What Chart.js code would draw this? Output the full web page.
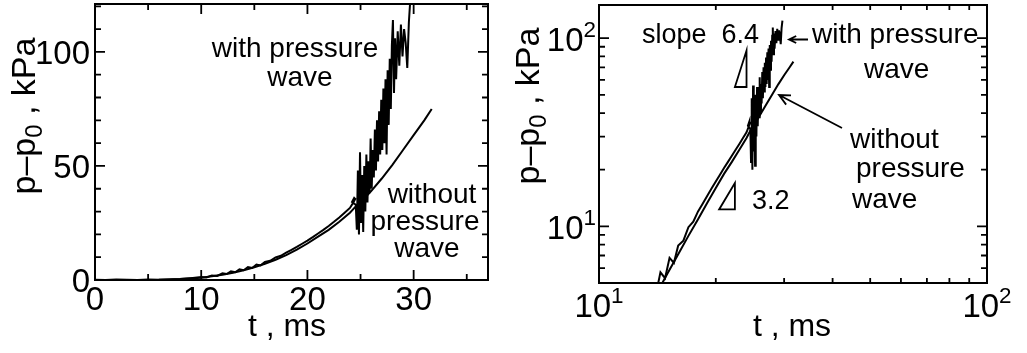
<!DOCTYPE html>
<html lang="en">
<head>
    <meta charset="UTF-8">
    <title>Pressure rise</title>
    <script src="https://cdn.jsdelivr.net/npm/chart.js"></script>
    <style>
        body {
            margin: 0;
            background: white;
            width: 1027px;
            height: 353px;
            position: relative;
            overflow: hidden;
        }
        canvas {
            position: absolute;
            top: 0;
        }
        #linChart { left: 0; }
        #logChart { left: 500px; }
    </style>
</head>
<body>
    <canvas id="linChart" width="500" height="353"></canvas>
    <canvas id="logChart" width="527" height="353"></canvas>

    <script>
        // curve without pressure wave (t in ms, p-p0 in kPa)
        const tWithout = [0, 3, 6, 8, 10, 11, 12, 13, 14, 15, 16, 17, 18, 19, 20, 21, 22, 23, 24, 24.6, 25, 26, 27, 28, 29, 30, 31, 31.7];
        const pWithout = [0, 0, 0.1, 0.4, 1.0, 1.6, 2.3, 3.2, 4.3, 5.6, 7.1, 8.9, 10.9, 13.3, 16.0, 19.0, 22.0, 25.5, 29.5, 32.5, 34, 39, 44.5, 50.5, 57, 63.5, 70, 75];

        // curve with pressure wave
        const tWith = [0, 1, 2, 3, 4, 5, 6, 7, 8, 9, 10, 10.5, 11, 11.5, 12, 12.4, 12.8, 13.2, 13.6, 14, 14.4, 14.8, 15.2, 15.6, 16, 16.5, 17, 17.5,
            18, 18.5, 19, 19.5, 20, 20.5, 21, 21.5, 22, 22.5, 23, 23.5, 24, 24.3, 24.5, 24.4, 24.2, 24.55,
            24.65, 24.75, 24.85, 24.95, 25.05, 25.15, 25.25, 25.35, 25.45, 25.55, 25.65, 25.75, 25.85, 25.95, 26.05, 26.15, 26.25, 26.35,
            26.45, 26.55, 26.65, 26.75, 26.85, 26.95, 27.05, 27.15, 27.25, 27.35, 27.45, 27.55, 27.65, 27.75, 27.85, 27.95, 28.05, 28.15,
            28.25, 28.35, 28.5, 28.65, 28.8, 28.95, 29.1, 29.25, 29.4, 29.55, 29.7];
        const pWith = [0.1, 0, 0.2, 0.1, 0, 0.2, 0.1, 0.2, 0.4, 0.8, 1.3, 1.1, 2.0, 1.8, 2.9, 2.6, 3.8, 3.4, 4.7, 4.3, 5.7, 5.3, 6.8, 6.4, 7.9, 8.4, 9.9, 10.6,
            12.0, 13.2, 14.5, 15.9, 17.3, 18.8, 20.4, 22.0, 23.7, 25.5, 27.4, 29.5, 31.6, 33.8, 35.5, 36.0, 34.2, 33,
            22, 48, 20, 56, 25, 46, 21, 50, 30, 55, 34, 52, 38, 62, 40, 57, 45, 66,
            48, 70, 52, 74, 55, 79, 57, 84, 60, 88, 55, 92, 68, 97, 75, 103, 114, 82,
            106, 88, 109, 94, 112, 98, 110, 104, 93, 113, 124];

        // linear panel ticks
        const linXMajor = [0, 10, 20, 30];
        const linXMinor = [5, 15, 25, 35];
        const linYMajor = [0, 50, 100];
        const linYMinor = [10, 20, 30, 40, 60, 70, 80, 90, 110, 120];

        // log panel ticks
        const logXMajor = [10, 100];
        const logXMinor = [20, 30, 40, 50, 60, 70, 80, 90];
        const logYMajor = [10, 100];
        const logYMinor = [6, 7, 8, 9, 20, 30, 40, 50, 60, 70, 80, 90];

        // slope triangles (t, p)
        const slopeHigh = [[22.4, 55], [24, 55], [24, 86]];
        const slopeLow = [[20.4, 12.3], [22.4, 12.3], [22.4, 17]];

        const FONT = '"Liberation Sans", Arial, Helvetica, sans-serif';

        function points(ts, ps, positiveOnly) {
            const out = [];
            ts.forEach((t, i) => {
                if (!positiveOnly || (ps[i] > 0 && t > 0)) out.push({ x: t, y: ps[i] });
            });
            return out;
        }

        function txt(ctx, s, x, y, size, align) {
            ctx.font = size + 'px ' + FONT;
            ctx.textAlign = align || 'center';
            ctx.textBaseline = 'alphabetic';
            ctx.fillText(s, x, y);
        }

        function pow10(ctx, exp, x, y, size, align) {
            ctx.font = size + 'px ' + FONT;
            const bw = ctx.measureText('10').width;
            const ss = size * 0.68;
            ctx.font = ss + 'px ' + FONT;
            const sw = ctx.measureText(exp).width;
            const total = bw + sw;
            let x0 = x - total / 2;
            if (align === 'right') x0 = x - total;
            ctx.textAlign = 'left';
            ctx.textBaseline = 'alphabetic';
            ctx.font = size + 'px ' + FONT;
            ctx.fillText('10', x0, y);
            ctx.font = ss + 'px ' + FONT;
            ctx.fillText(exp, x0 + bw, y - size * 0.42);
        }

        function yTitle(ctx, x, yc, size) {
            const parts = [['p\u2013p', size, 0], ['0', size * 0.7, size * 0.22], [' , kPa', size, 0]];
            ctx.save();
            ctx.translate(x, yc);
            ctx.rotate(-Math.PI / 2);
            let total = 0;
            parts.forEach(p => { ctx.font = p[1] + 'px ' + FONT; total += ctx.measureText(p[0]).width; });
            let cx = -total / 2;
            ctx.textAlign = 'left';
            ctx.textBaseline = 'alphabetic';
            parts.forEach(p => {
                ctx.font = p[1] + 'px ' + FONT;
                ctx.fillText(p[0], cx, p[2]);
                cx += ctx.measureText(p[0]).width;
            });
            ctx.restore();
        }

        function ticksX(ctx, sc, a, vals, len) {
            vals.forEach(v => {
                const px = sc.getPixelForValue(v);
                ctx.beginPath();
                ctx.moveTo(px, a.bottom); ctx.lineTo(px, a.bottom - len);
                ctx.moveTo(px, a.top); ctx.lineTo(px, a.top + len);
                ctx.stroke();
            });
        }

        function ticksY(ctx, sc, a, vals, len) {
            vals.forEach(v => {
                const py = sc.getPixelForValue(v);
                ctx.beginPath();
                ctx.moveTo(a.left, py); ctx.lineTo(a.left + len, py);
                ctx.moveTo(a.right, py); ctx.lineTo(a.right - len, py);
                ctx.stroke();
            });
        }

        function arrow(ctx, x1, y1, x2, y2, head) {
            const ang = Math.atan2(y2 - y1, x2 - x1);
            ctx.beginPath();
            ctx.moveTo(x1, y1); ctx.lineTo(x2, y2);
            ctx.moveTo(x2 - head * Math.cos(ang - 0.45), y2 - head * Math.sin(ang - 0.45));
            ctx.lineTo(x2, y2);
            ctx.lineTo(x2 - head * Math.cos(ang + 0.45), y2 - head * Math.sin(ang + 0.45));
            ctx.stroke();
        }

        function triangle(ctx, xs, ys, verts) {
            ctx.beginPath();
            verts.forEach((v, i) => {
                const px = xs.getPixelForValue(v[0]), py = ys.getPixelForValue(v[1]);
                if (i === 0) ctx.moveTo(px, py); else ctx.lineTo(px, py);
            });
            ctx.closePath();
            ctx.stroke();
        }

        function decorPlugin(draw) {
            return {
                id: 'decor',
                afterDraw(chart) {
                    const ctx = chart.ctx;
                    const a = chart.chartArea;
                    ctx.save();
                    ctx.strokeStyle = '#000';
                    ctx.fillStyle = '#000';
                    ctx.lineWidth = 2;
                    ctx.strokeRect(a.left, a.top, a.right - a.left, a.bottom - a.top);
                    ctx.lineWidth = 1.8;
                    draw(ctx, chart.scales.x, chart.scales.y, a);
                    ctx.restore();
                }
            };
        }

        function lineSet(data) {
            return {
                data: data,
                showLine: true,
                borderColor: '#000',
                borderWidth: 2,
                pointRadius: 0,
                tension: 0,
                fill: false
            };
        }

        function axis(type, min, max, fit) {
            return {
                type: type,
                min: min,
                max: max,
                ticks: { display: false },
                grid: { display: false },
                border: { display: false },
                afterFit: fit
            };
        }

        const baseOptions = {
            responsive: false,
            animation: false,
            devicePixelRatio: 1,
            plugins: { legend: { display: false }, tooltip: { enabled: false } }
        };

        // left: linear axes
        new Chart(document.getElementById('linChart').getContext('2d'), {
            type: 'scatter',
            data: {
                datasets: [
                    lineSet(points(tWithout, pWithout, false)),
                    lineSet(points(tWith, pWith, false))
                ]
            },
            options: Object.assign({}, baseOptions, {
                layout: { padding: { left: 0, top: 4, right: 12, bottom: 0 } },
                scales: {
                    x: axis('linear', 0, 37, s => { s.height = 73; }),
                    y: axis('linear', 0, 121, s => { s.width = 95; })
                }
            }),
            plugins: [decorPlugin((ctx, xs, ys, a) => {
                ticksX(ctx, xs, a, linXMajor, 10);
                ticksX(ctx, xs, a, linXMinor, 6);
                ticksY(ctx, ys, a, linYMajor, 10);
                ticksY(ctx, ys, a, linYMinor, 6);
                linXMajor.forEach(v => txt(ctx, String(v), xs.getPixelForValue(v), 310, 33));
                linYMajor.forEach(v => txt(ctx, String(v), 90, ys.getPixelForValue(v) + 12, 33, 'right'));
                txt(ctx, 't , ms', 287, 336, 32);
                yTitle(ctx, 35, 116, 34);
                txt(ctx, 'with pressure', 295, 57, 28);
                txt(ctx, 'wave', 300, 86, 28);
                txt(ctx, 'without', 432, 203, 28);
                txt(ctx, 'pressure', 425, 230, 28);
                txt(ctx, 'wave', 427, 257, 28);
            })]
        });

        // right: log-log axes (canvas starts at x = 500)
        new Chart(document.getElementById('logChart').getContext('2d'), {
            type: 'scatter',
            data: {
                datasets: [
                    lineSet(points(tWithout, pWithout, true)),
                    lineSet(points(tWith, pWith, true))
                ]
            },
            options: Object.assign({}, baseOptions, {
                layout: { padding: { left: 0, top: 5, right: 40, bottom: 0 } },
                scales: {
                    x: axis('logarithmic', 10, 100, s => { s.height = 70; }),
                    y: axis('logarithmic', 5, 150, s => { s.width = 99; })
                }
            }),
            plugins: [decorPlugin((ctx, xs, ys, a) => {
                const o = 500;
                ticksX(ctx, xs, a, logXMinor, 5);
                ticksY(ctx, ys, a, logYMajor, 10);
                ticksY(ctx, ys, a, logYMinor, 6);
                logXMajor.forEach(v => pow10(ctx, String(Math.log10(v)), xs.getPixelForValue(v), 317, 33));
                logYMajor.forEach(v => pow10(ctx, String(Math.log10(v)), a.left - 3, ys.getPixelForValue(v) + 13, 33, 'right'));
                txt(ctx, 't , ms', 792 - o, 336, 32);
                yTitle(ctx, 539 - o, 106, 34);
                triangle(ctx, xs, ys, slopeHigh);
                triangle(ctx, xs, ys, slopeLow);
                txt(ctx, 'slope  6.4', 642 - o, 43, 27, 'left');
                txt(ctx, '3.2', 752 - o, 209, 27, 'left');
                txt(ctx, 'with pressure', 812 - o, 43, 28, 'left');
                txt(ctx, 'wave', 864 - o, 78, 28, 'left');
                txt(ctx, 'without', 850 - o, 148, 28, 'left');
                txt(ctx, 'pressure', 856 - o, 177, 28, 'left');
                txt(ctx, 'wave', 852 - o, 208, 28, 'left');
                arrow(ctx, 808 - o, 39.5, 789 - o, 39.5, 8);
                arrow(ctx, 842 - o, 128, 779 - o, 95, 12);
            })]
        });
    </script>
</body>
</html>
